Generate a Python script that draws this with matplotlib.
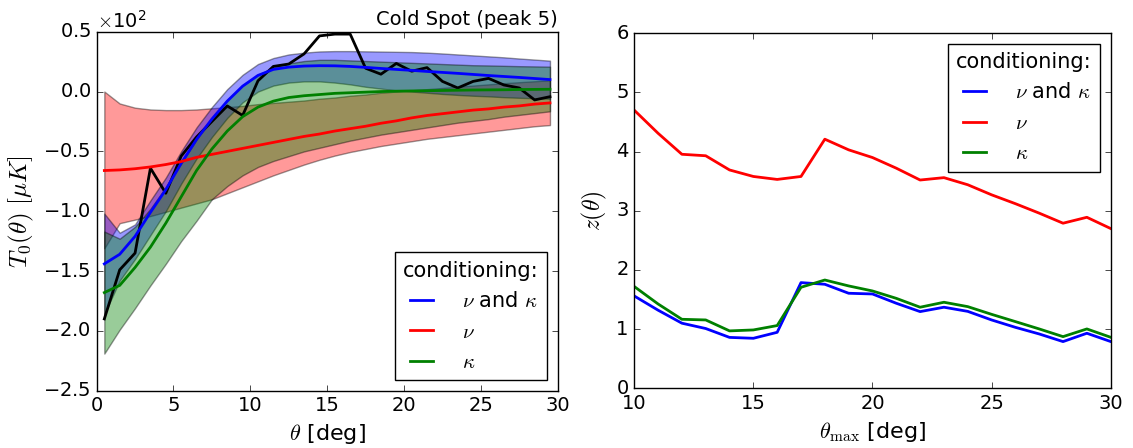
import matplotlib
matplotlib.use("Agg")
import matplotlib.pyplot as plt
from matplotlib.ticker import ScalarFormatter

# ---- left panel: T0(theta) profile, 1 deg bins ----
theta = [0.5, 1.5, 2.5, 3.5, 4.5, 5.5, 6.5, 7.5, 8.5, 9.5,
         10.5, 11.5, 12.5, 13.5, 14.5, 15.5, 16.5, 17.5, 18.5, 19.5,
         20.5, 21.5, 22.5, 23.5, 24.5, 25.5, 26.5, 27.5, 28.5, 29.5]

observed = [-190, -149, -135, -64, -85, -54, -38, -25, -12, -20,
            9, 21, 23, 31.5, 46.5, 48, 48, 19.5, 14.5, 23.5,
            17, 20, 8.5, 3, 8.5, 11, 5.5, 3, -7, -4.3]

# conditioning on nu and kappa
nk_mean = [-144, -136, -121, -101, -82, -60, -40, -23, -8, 4.5,
           13.5, 18.5, 20.4, 21.3, 21.6, 21.5, 21, 20.2, 19.3, 18.5,
           17.7, 16.8, 16, 15.2, 14.3, 13.4, 12.6, 11.8, 10.9, 10]
nk_upper = [-102, -118, -111, -91, -72, -50, -30, -13, 2, 14,
            23, 28, 31, 32.5, 33.5, 33.8, 33.8, 33.6, 33.4, 33.2,
            33, 32.5, 31.8, 31, 30.2, 29.4, 28.6, 27.6, 26.7, 25.8]
nk_lower = [-186, -158, -140, -120, -100, -77, -56, -38, -22, -9,
            0, 5, 7.5, 8.5, 8.5, 7.5, 6, 4, 2.5, 1,
            0, -1, -2, -2.8, -3.5, -4, -4.7, -5.2, -5.6, -6]

# conditioning on nu only
nu_mean = [-66, -65.5, -64.5, -63, -61, -58.5, -55, -52.5, -50, -47.5,
           -45, -42.5, -40, -37.5, -35.5, -33, -31, -29, -26.5, -24.5,
           -22, -20, -18.5, -17, -15.5, -14.5, -13, -12, -10.5, -9.5]
nu_upper = [0, -10, -13.5, -15, -15.5, -15.5, -15, -14, -13, -12,
            -10.5, -9.5, -8.5, -7.5, -6, -5, -3.5, -2.5, -1, 0,
            1, 2, 3, 4, 5, 6, 7, 7.8, 8.6, 9.4]
nu_lower = [-131, -110, -107, -104, -100.5, -97, -93.5, -90, -85, -80,
            -75, -70, -65.5, -61, -57, -53.5, -50.5, -48, -45.5, -43.5,
            -41.5, -39.5, -38, -36.5, -35, -33.5, -32, -30.5, -29, -28]

# conditioning on kappa only
ka_mean = [-168, -162, -147, -130, -110, -88, -66, -48, -33, -21,
           -13, -8, -5, -3.5, -2.5, -1.5, -1, -0.5, 0, 0.3,
           0.5, 0.7, 0.9, 1.1, 1.3, 1.4, 1.5, 1.7, 1.8, 1.9]
ka_upper = [-117, -123, -113, -98, -80, -60, -40, -22, -7, 5,
            14, 20, 23.5, 25.5, 26.5, 26.5, 26, 25.5, 25, 24.5,
            24, 23.5, 23, 22.5, 22, 21.8, 21.5, 21.2, 21, 20.8]
ka_lower = [-219, -199, -181, -162, -144, -125, -108, -90, -79, -70,
            -63, -58, -54, -50, -47, -44, -41, -38.5, -36, -34,
            -32, -30, -28, -26, -24.5, -23, -21, -19.5, -18, -16.5]

# ---- right panel: significance vs theta_max ----
theta_max = list(range(10, 31))
z_nk = [1.56, 1.32, 1.10, 1.01, 0.86, 0.845, 0.946, 1.786, 1.758, 1.606, 1.594,
        1.437, 1.296, 1.37, 1.30, 1.155, 1.03, 0.918, 0.789, 0.93, 0.79]
z_nu = [4.70, 4.31, 3.955, 3.93, 3.69, 3.58, 3.53, 3.58, 4.21, 4.03, 3.90,
        3.72, 3.52, 3.56, 3.44, 3.27, 3.12, 2.96, 2.79, 2.89, 2.70]
z_ka = [1.72, 1.425, 1.166, 1.155, 0.97, 0.986, 1.06, 1.707, 1.83, 1.73, 1.645,
        1.52, 1.37, 1.454, 1.38, 1.25, 1.127, 1.003, 0.873, 1.003, 0.862]

labels = [r"$\nu$ and $\kappa$", r"$\nu$", r"$\kappa$"]

plt.style.use("classic")
plt.rcParams.update({
    "figure.facecolor": "white",
    "savefig.facecolor": "white",
    "font.size": 14,
    "mathtext.fontset": "cm",
    "lines.linewidth": 2,
    "legend.fontsize": 15,
})

fig = plt.figure(figsize=(11.33, 4.48), dpi=100)
ax1 = fig.add_axes([0.0853, 0.1279, 0.4069, 0.8013])
ax2 = fig.add_axes([0.5598, 0.1333, 0.4205, 0.7924])

# bands first, then lines on top
ax1.fill_between(theta, nu_lower, nu_upper, color="r", alpha=0.4, edgecolor="k", linewidth=1)
ax1.fill_between(theta, nk_lower, nk_upper, color="b", alpha=0.4, edgecolor="k", linewidth=1)
ax1.fill_between(theta, ka_lower, ka_upper, color="g", alpha=0.4, edgecolor="k", linewidth=1)

ax1.plot(theta, observed, color="k")
l1, = ax1.plot(theta, nk_mean, color="b")
l2, = ax1.plot(theta, nu_mean, color="r")
l3, = ax1.plot(theta, ka_mean, color="g")

ax1.set_xlim(0, 30)
ax1.set_ylim(-250, 50)
fmt = ScalarFormatter(useMathText=True)
fmt.set_powerlimits((0, 0))
ax1.yaxis.set_major_formatter(fmt)
ax1.set_xlabel(r"$\theta$ [deg]", fontsize=16)
ax1.set_ylabel(r"$T_0(\theta)\ [\mu K]$", fontsize=18)
ax1.set_title("Cold Spot (peak 5)", loc="right", fontsize=14)
leg1 = ax1.legend([l1, l2, l3], labels, loc="lower right", title="conditioning:",
                  fancybox=False, handlelength=1.7, handletextpad=1.1)
leg1.get_title().set_fontsize(15)

ax2.plot(theta_max, z_nk, color="b", label=labels[0])
ax2.plot(theta_max, z_nu, color="r", label=labels[1])
ax2.plot(theta_max, z_ka, color="g", label=labels[2])
ax2.set_xlim(10, 30)
ax2.set_ylim(0, 6)
ax2.set_xlabel(r"$\theta_{\rm max}$ [deg]", fontsize=16)
ax2.set_ylabel(r"$z(\theta)$", fontsize=17)
leg2 = ax2.legend(loc="upper right", title="conditioning:", fancybox=False,
                  handlelength=1.7, handletextpad=1.1)
leg2.get_title().set_fontsize(15)

fig.savefig("out.png", dpi=100)
